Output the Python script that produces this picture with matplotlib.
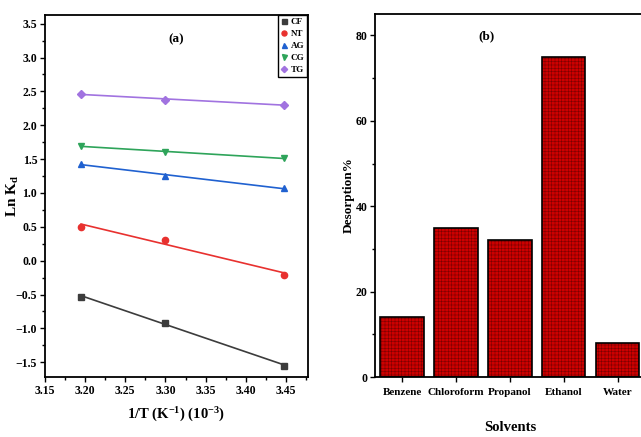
import numpy as np
import matplotlib.pyplot as plt
from matplotlib.ticker import MultipleLocator

plt.rcParams['font.family'] = ['Liberation Serif', 'DejaVu Serif']
plt.rcParams['font.weight'] = 'bold'
plt.rcParams['mathtext.fontset'] = 'custom'
plt.rcParams['mathtext.rm'] = 'Liberation Serif:bold'
plt.rcParams['mathtext.default'] = 'rm'
plt.rcParams['hatch.linewidth'] = 0.4

# (a) Ln Kd vs 1/T
inv_t = [3.195, 3.300, 3.448]
series_names = ['CF', 'NT', 'AG', 'CG', 'TG']
cf = [-0.53, -0.92, -1.55]
nt = [0.50, 0.31, -0.21]
ag = [1.43, 1.25, 1.07]
cg = [1.69, 1.61, 1.51]
tg = [2.46, 2.38, 2.30]

# (b) desorption by solvent
solvents = ['Benzene', 'Chloroform', 'Propanol', 'Ethanol', 'Water']
desorption = [14, 35, 32, 75, 8]

colors = ['#3c3c3c', '#e8312f', '#2061d0', '#2ea45a', '#a173e0']
markers = ['s', 'o', '^', 'v', 'D']

fig = plt.figure(figsize=(6.41, 4.37), dpi=100)
ax1 = fig.add_axes([0.070, 0.137, 0.410, 0.829])
ax2 = fig.add_axes([0.585, 0.137, 0.421, 0.831])

for name, ys, c, m in zip(series_names, [cf, nt, ag, cg, tg], colors, markers):
    ax1.plot(inv_t, ys, linestyle='none', marker=m, color=c,
             markersize=4.5 if m != 'D' else 4, label=name)
    # linear fit line through the points
    k, b = np.polyfit(inv_t, ys, 1)
    xs = np.array([inv_t[0], inv_t[-1]])
    ax1.plot(xs, k * xs + b, color=c, lw=1.2)

ax1.set_xlim(3.15, 3.477)
ax1.set_ylim(-1.72, 3.63)
ax1.xaxis.set_major_locator(MultipleLocator(0.05))
ax1.xaxis.set_minor_locator(MultipleLocator(0.025))
ax1.yaxis.set_major_locator(MultipleLocator(0.5))
ax1.yaxis.set_minor_locator(MultipleLocator(0.25))
ax1.set_xlabel('1/T (K$^{-1}$) (10$^{-3}$)', fontsize=10.5, fontweight='bold')
ax1.xaxis.set_label_coords(0.5, -0.078)
ax1.set_ylabel('Ln K$_{d}$', fontsize=11, fontweight='bold')
ax1.yaxis.set_label_coords(-0.09, 0.5)
ax1.text(0.5, 0.95, '(a)', transform=ax1.transAxes, ha='center', va='top', fontsize=9.5)
ax1.legend(loc='upper right', fontsize=6.5, handlelength=0.6, handletextpad=0.5,
           borderpad=0.3, labelspacing=0.4, fancybox=False, edgecolor='black',
           framealpha=1, borderaxespad=0.05, markerscale=0.8)

ax2.bar(range(len(solvents)), desorption, width=0.8, color='#cc0000',
        edgecolor='#7a0000', hatch='+++++', linewidth=0, zorder=2)
ax2.bar(range(len(solvents)), desorption, width=0.8, facecolor='none',
        edgecolor='black', linewidth=1.2, zorder=3)
ax2.set_xlim(-0.5, 4.5)
ax2.set_ylim(0, 85)
ax2.set_xticks(range(len(solvents)))
ax2.set_xticklabels(solvents)
ax2.yaxis.set_major_locator(MultipleLocator(20))
ax2.yaxis.set_minor_locator(MultipleLocator(10))
ax2.set_xlabel('Solvents', fontsize=10.5, fontweight='bold')
ax2.xaxis.set_label_coords(0.5, -0.12)
ax2.set_ylabel('Desorption%', fontsize=9.5, fontweight='bold')
ax2.yaxis.set_label_coords(-0.075, 0.5)
ax2.text(0.415, 0.955, '(b)', transform=ax2.transAxes, ha='center', va='top', fontsize=9.5)

for ax in (ax1, ax2):
    for s in ax.spines.values():
        s.set_linewidth(1.3)
    ax.tick_params(which='both', direction='out', labelsize=8.5, width=1, pad=2)
    ax.tick_params(which='major', length=3.5)
    ax.tick_params(which='minor', length=2)
    for lab in ax.get_xticklabels() + ax.get_yticklabels():
        lab.set_fontweight('bold')
ax2.tick_params(axis='x', labelsize=8, pad=4)

fig.savefig('out.png', dpi=100)
